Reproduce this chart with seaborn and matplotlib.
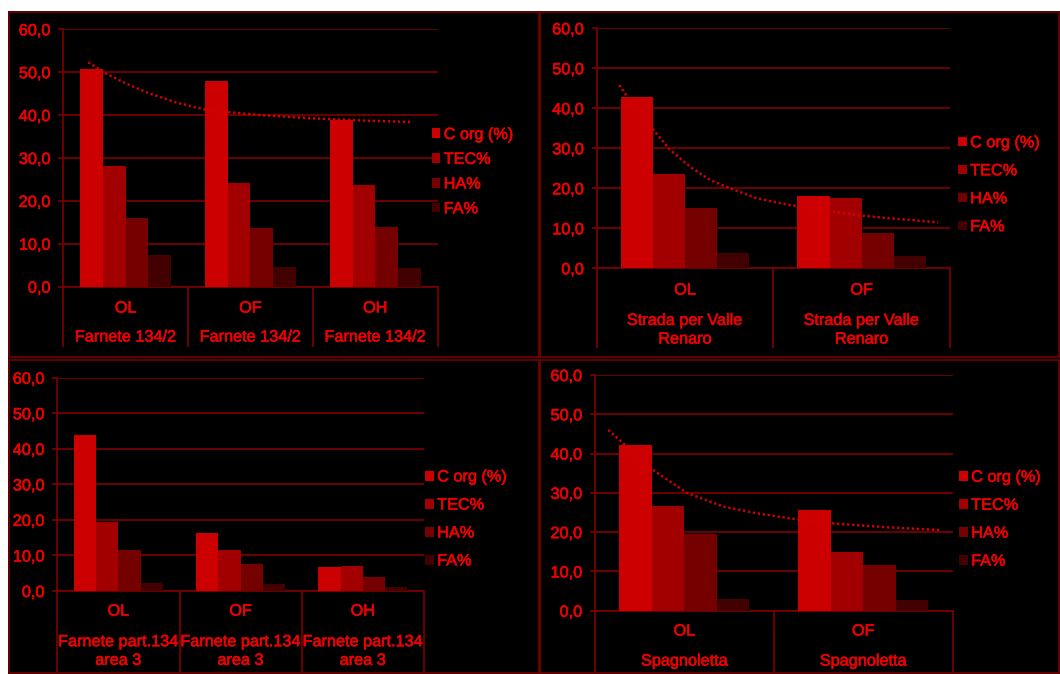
import matplotlib
matplotlib.use("Agg")
import matplotlib.pyplot as plt
import matplotlib.patheffects as pe
import seaborn as sns
import pandas as pd
import numpy as np
from matplotlib.patches import Rectangle, Patch

sns.set_theme(style="dark")
plt.rcParams['font.family'] = ['Liberation Sans', 'DejaVu Sans']

# ---- data -------------------------------------------------------------
series = ["C org (%)", "TEC%", "HA%", "FA%"]
horizons_3 = ["OL", "OF", "OH"]
horizons_2 = ["OL", "OF"]

farnete_c_org = [50.7, 47.9, 38.9]
farnete_tec = [28.2, 24.2, 23.6]
farnete_ha = [15.9, 13.6, 13.8]
farnete_fa = [7.5, 4.7, 4.4]

valle_c_org = [42.9, 18.1]
valle_tec = [23.6, 17.6]
valle_ha = [15.0, 8.8]
valle_fa = [3.9, 3.2]

area3_c_org = [44.0, 16.4, 6.8]
area3_tec = [19.3, 11.5, 7.0]
area3_ha = [11.5, 7.6, 3.8]
area3_fa = [2.3, 1.9, 1.1]

spagnoletta_c_org = [42.1, 25.6]
spagnoletta_tec = [26.7, 14.9]
spagnoletta_ha = [19.4, 11.7]
spagnoletta_fa = [3.0, 2.7]

# C org trend curves (category position, value)
farnete_trend_x = [-0.30, -0.152, 0.008, 0.168, 0.409, 0.649, 0.996, 1.450, 1.931, 2.278]
farnete_trend_y = [52.3, 49.6, 47.3, 45.3, 42.9, 41.2, 40.2, 39.3, 38.7, 38.4]
valle_trend_x = [-0.372, -0.321, -0.179, -0.085, 0.028, 0.141, 0.255, 0.406, 0.595, 0.783, 0.972, 1.160, 1.433]
valle_trend_y = [45.8, 42.5, 34.6, 29.6, 25.4, 22.1, 20.0, 17.5, 15.8, 14.6, 13.3, 12.5, 11.5]
spagnoletta_trend_x = [-0.426, -0.342, -0.174, 0.013, 0.218, 0.404, 0.591, 0.777, 0.963, 1.149, 1.439]
spagnoletta_trend_y = [46.0, 42.6, 35.8, 30.0, 26.5, 24.8, 23.5, 22.4, 21.8, 21.2, 20.5]

y_ticks = [0, 10, 20, 30, 40, 50, 60]
y_tick_labels = ["0,0", "10,0", "20,0", "30,0", "40,0", "50,0", "60,0"]

site_farnete = "Farnete 134/2"
site_valle = "Strada per Valle\nRenaro"
site_area3 = "Farnete part.134\narea 3"
site_spagnoletta = "Spagnoletta"

# ---- style ------------------------------------------------------------
palette = ["#CC0000", "#A20000", "#740000", "#430000"]
text_red = "#EE0000"
line_red = "#7E0000"
trend_red = "#D40000"
FS = 11.7
W, H = 1060, 674
text_fx = [pe.withStroke(linewidth=0.45, foreground=text_red)]


def fx(x):
    return x / W


def fy(y):
    return 1 - y / H


fig = plt.figure(figsize=(W / 100, H / 100), dpi=100, facecolor="white")

# black backdrop and panel frames
fig.add_artist(Rectangle((fx(8), fy(674)), (1060 - 8) / W, (674 - 11) / H,
                         transform=fig.transFigure, facecolor="black",
                         edgecolor="none", zorder=-10))
for (x0, y0, x1, y1) in [(9, 12, 539, 357), (540, 12, 1059, 357),
                         (9, 360, 539, 673), (540, 360, 1059, 673)]:
    fig.add_artist(Rectangle((fx(x0), fy(y1)), (x1 - x0) / W, (y1 - y0) / H,
                             transform=fig.transFigure, facecolor="none",
                             edgecolor=line_red, lw=1.1, zorder=-5))


def make_frame(horizons, c_org, tec, ha, fa):
    rows = []
    for s, vals in zip(series, [c_org, tec, ha, fa]):
        for h, v in zip(horizons, vals):
            rows.append({"horizon": h, "series": s, "value": v})
    return pd.DataFrame(rows)


panels = [
    dict(df=make_frame(horizons_3, farnete_c_org, farnete_tec, farnete_ha, farnete_fa),
         horizons=horizons_3, site=site_farnete, box=(63.3, 29.3, 437.7, 286.7),
         sep_bottom=347, lab1=308, lab2=337, leg_x=431.5, leg_y=171.7, leg_sp=0.6,
         trend=(farnete_trend_x, farnete_trend_y)),
    dict(df=make_frame(horizons_2, valle_c_org, valle_tec, valle_ha, valle_fa),
         horizons=horizons_2, site=site_valle, box=(596.7, 28.3, 950, 268.3),
         sep_bottom=348, lab1=290, lab2=329.7, leg_x=958, leg_y=184.7, leg_sp=0.8,
         trend=(valle_trend_x, valle_trend_y)),
    dict(df=make_frame(horizons_3, area3_c_org, area3_tec, area3_ha, area3_fa),
         horizons=horizons_3, site=site_area3, box=(57.3, 377.7, 424, 591),
         sep_bottom=672, lab1=611, lab2=651, leg_x=425, leg_y=518.9, leg_sp=0.8,
         trend=None),
    dict(df=make_frame(horizons_2, spagnoletta_c_org, spagnoletta_tec, spagnoletta_ha, spagnoletta_fa),
         horizons=horizons_2, site=site_spagnoletta, box=(595, 375, 952.7, 610.7),
         sep_bottom=672, lab1=631, lab2=661, leg_x=959, leg_y=519.2, leg_sp=0.8,
         trend=(spagnoletta_trend_x, spagnoletta_trend_y)),
]

for p in panels:
    x0, y0, x1, y1 = p["box"]
    ax = fig.add_axes([fx(x0), fy(y1), (x1 - x0) / W, (y1 - y0) / H])
    ax.set_facecolor("black")
    n = len(p["horizons"])

    sns.barplot(data=p["df"], x="horizon", y="value", hue="series",
                order=p["horizons"], hue_order=series, palette=palette,
                saturation=1, width=4 / 5.5, gap=0, linewidth=0,
                legend=False, ax=ax, zorder=3)

    if p["trend"] is not None:
        tx, ty = p["trend"]
        ax.plot(tx, ty, color=trend_red, lw=1.8, linestyle=(0, (0.9, 1.1)),
                zorder=5)

    ax.set_xlim(-0.5, n - 0.5)
    ax.set_ylim(0, 60)
    ax.set_yticks(y_ticks)
    ax.set_yticklabels(y_tick_labels)
    ax.set_xticks([])
    ax.set_xlabel("")
    ax.set_ylabel("")
    ax.yaxis.grid(True, color=line_red, lw=1.2)
    ax.xaxis.grid(False)
    ax.set_axisbelow(True)
    for side in ["top", "right"]:
        ax.spines[side].set_visible(False)
    for side in ["left", "bottom"]:
        ax.spines[side].set_visible(True)
        ax.spines[side].set_color(line_red)
        ax.spines[side].set_linewidth(1.2)
    ax.tick_params(axis="y", direction="out", length=3.3, width=1.2,
                   color=line_red, labelcolor=text_red, labelsize=FS, pad=6.0,
                   left=True)
    for lbl in ax.get_yticklabels():
        lbl.set_path_effects(text_fx)

    # category separators running down through the label area
    h_px = y1 - y0
    ax.vlines(np.arange(n + 1) - 0.5, -(p["sep_bottom"] - y1) / h_px, 0,
              transform=ax.get_xaxis_transform(), colors=line_red, lw=1.2,
              clip_on=False)

    for i, h in enumerate(p["horizons"]):
        ax.annotate(h, xy=(i, 0), xycoords=ax.get_xaxis_transform(),
                    xytext=(0, -(p["lab1"] - y1) * 0.72), textcoords="offset points",
                    ha="center", va="center", color=text_red, fontsize=FS,
                    annotation_clip=False, path_effects=text_fx)
        ax.annotate(p["site"], xy=(i, 0), xycoords=ax.get_xaxis_transform(),
                    xytext=(0, -(p["lab2"] - y1) * 0.72), textcoords="offset points",
                    ha="center", va="center", color=text_red, fontsize=FS,
                    linespacing=1.3, multialignment="center",
                    annotation_clip=False, path_effects=text_fx)

    handles = [Patch(facecolor=c, edgecolor="none") for c in palette]
    leg = ax.legend(handles, series, loc="center left",
                    bbox_to_anchor=(fx(p["leg_x"]), fy(p["leg_y"])),
                    bbox_transform=fig.transFigure, frameon=False,
                    handlelength=0.55, handleheight=0.55, handletextpad=0.2,
                    labelspacing=p["leg_sp"], borderpad=0, borderaxespad=0,
                    labelcolor=text_red, fontsize=FS)
    for t in leg.get_texts():
        t.set_path_effects(text_fx)

fig.savefig("out.png", dpi=100, facecolor="white")
